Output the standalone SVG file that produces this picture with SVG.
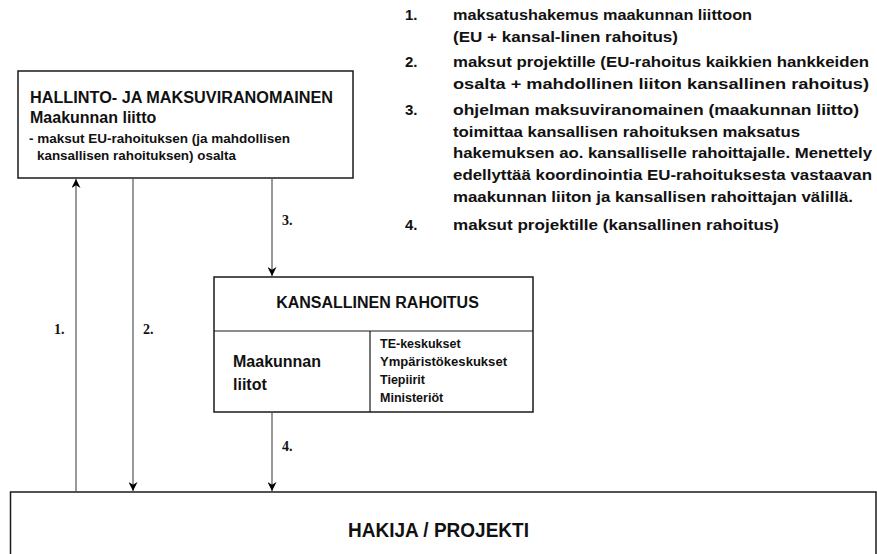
<svg xmlns="http://www.w3.org/2000/svg" width="877" height="554" viewBox="0 0 877 554">
  <defs>
    <style>
      .box { fill: #ffffff; stroke: #1a1a1a; stroke-width: 1.5; }
      .div { stroke: #1a1a1a; stroke-width: 1.2; fill: none; }
      .conn { stroke: #555555; stroke-width: 1.2; fill: none; }
      .b { font-family: "Liberation Sans", Arial, sans-serif; font-weight: bold; fill: #111111; }
      .num { font-family: "Liberation Serif", "Times New Roman", serif; font-weight: bold; font-size: 14px; fill: #111111; }
      .leg { font-size: 15px; }
    </style>
    <marker id="arr" viewBox="0 0 10 10" refX="10" refY="5" markerWidth="9" markerHeight="9" markerUnits="userSpaceOnUse" orient="auto">
      <path d="M0,0 L10,5 L0,10 L3,5 z" fill="#000000"/>
    </marker>
  </defs>

  <rect width="877" height="554" fill="#ffffff"/>

  <g id="legend" class="b leg">
    <text x="405" y="20">1.</text>
    <text x="453" y="20" textLength="299" lengthAdjust="spacingAndGlyphs">maksatushakemus maakunnan liittoon</text>
    <text x="453" y="42" textLength="225" lengthAdjust="spacingAndGlyphs">(EU + kansal-linen  rahoitus)</text>
    <text x="405" y="67">2.</text>
    <text x="453" y="67" textLength="416" lengthAdjust="spacingAndGlyphs">maksut projektille (EU-rahoitus kaikkien hankkeiden</text>
    <text x="453" y="89" textLength="416" lengthAdjust="spacingAndGlyphs">osalta + mahdollinen liiton  kansallinen rahoitus)</text>
    <text x="405" y="115">3.</text>
    <text x="453" y="115" textLength="406" lengthAdjust="spacingAndGlyphs">ohjelman maksuviranomainen (maakunnan liitto)</text>
    <text x="453" y="137" textLength="347" lengthAdjust="spacingAndGlyphs">toimittaa kansallisen rahoituksen   maksatus</text>
    <text x="453" y="158" textLength="419" lengthAdjust="spacingAndGlyphs">hakemuksen ao. kansalliselle rahoittajalle. Menettely</text>
    <text x="453" y="180" textLength="419" lengthAdjust="spacingAndGlyphs">edellyttää  koordinointia EU-rahoituksesta  vastaavan</text>
    <text x="453" y="202" textLength="400" lengthAdjust="spacingAndGlyphs">maakunnan liiton ja kansallisen  rahoittajan välillä.</text>
    <text x="405" y="230">4.</text>
    <text x="453" y="230" textLength="326" lengthAdjust="spacingAndGlyphs">maksut projektille (kansallinen rahoitus)</text>
  </g>

  <g id="hallinto">
    <rect class="box" x="18" y="71" width="335" height="107"/>
    <text class="b" x="30" y="103" font-size="16" textLength="303" lengthAdjust="spacingAndGlyphs">HALLINTO- JA MAKSUVIRANOMAINEN</text>
    <text class="b" x="30" y="123" font-size="16">Maakunnan liitto</text>
    <text class="b" x="29" y="143" font-size="12" textLength="261" lengthAdjust="spacingAndGlyphs">- maksut EU-rahoituksen (ja mahdollisen</text>
    <text class="b" x="37" y="160" font-size="12" textLength="199" lengthAdjust="spacingAndGlyphs">kansallisen rahoituksen) osalta</text>
  </g>

  <g id="kansallinen">
    <rect class="box" x="214" y="277" width="319" height="135"/>
    <line class="div" x1="214" y1="331" x2="533" y2="331"/>
    <line class="div" x1="370" y1="331" x2="370" y2="412"/>
    <text class="b" x="377.5" y="308" font-size="16" text-anchor="middle">KANSALLINEN RAHOITUS</text>
    <text class="b" x="233" y="367" font-size="16">Maakunnan</text>
    <text class="b" x="233" y="390" font-size="16">liitot</text>
    <text class="b" x="380" y="348" font-size="12.5">TE-keskukset</text>
    <text class="b" x="380" y="366" font-size="12.5" textLength="127" lengthAdjust="spacingAndGlyphs">Ympäristökeskukset</text>
    <text class="b" x="380" y="384" font-size="12.5">Tiepiirit</text>
    <text class="b" x="380" y="402" font-size="12.5">Ministeriöt</text>
  </g>

  <g id="hakija">
    <rect class="box" x="10.5" y="492" width="865.5" height="80"/>
    <text class="b" x="348" y="537" font-size="20" textLength="181" lengthAdjust="spacingAndGlyphs">HAKIJA / PROJEKTI</text>
  </g>

  <g id="connectors">
    <line class="conn" x1="76" y1="492" x2="76" y2="179" marker-end="url(#arr)"/>
    <line class="conn" x1="133" y1="178" x2="133" y2="491" marker-end="url(#arr)"/>
    <line class="conn" x1="272" y1="178" x2="272" y2="276" marker-end="url(#arr)"/>
    <line class="conn" x1="272" y1="412" x2="272" y2="491" marker-end="url(#arr)"/>
    <text class="num" x="54" y="334">1.</text>
    <text class="num" x="143" y="334">2.</text>
    <text class="num" x="282" y="225">3.</text>
    <text class="num" x="282" y="451">4.</text>
  </g>
</svg>
